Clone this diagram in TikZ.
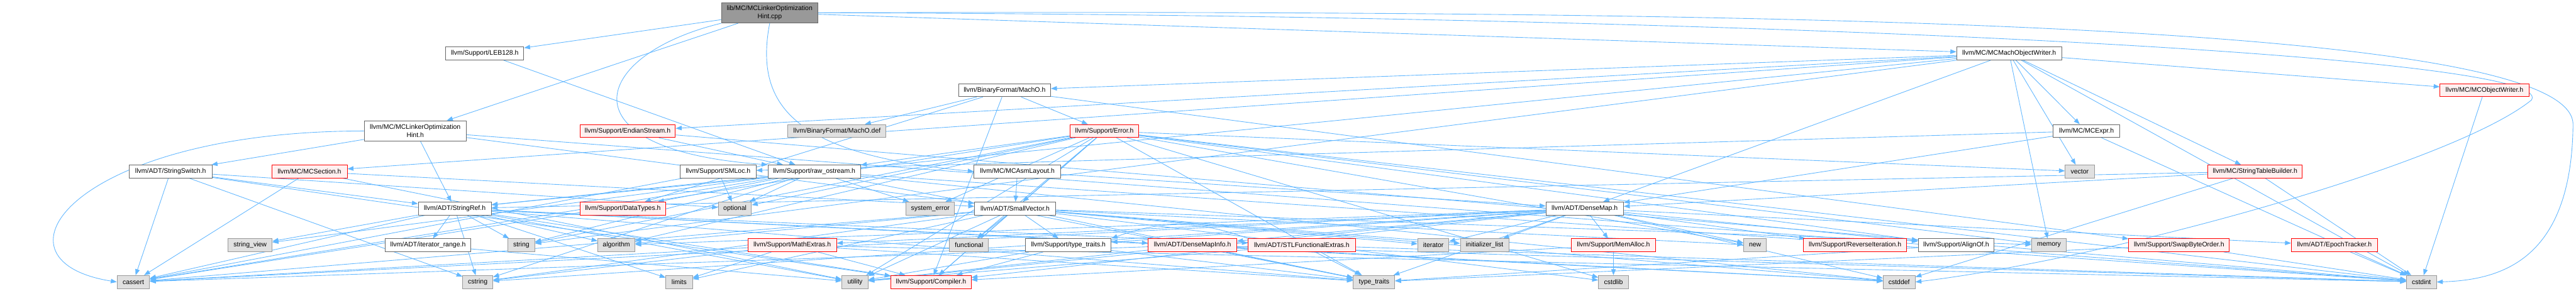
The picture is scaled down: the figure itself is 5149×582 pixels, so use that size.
\documentclass[tikz,border=0pt]{standalone}
\usepackage{fontspec}
\setmainfont{Liberation Sans}
\usetikzlibrary{arrows.meta}
\pgfdeclarelayer{bg}
\pgfsetlayers{bg,main}
\definecolor{edgec}{HTML}{63B8FF}
\definecolor{bordN}{HTML}{666666}
\definecolor{bordX}{HTML}{999999}
\definecolor{fillX}{HTML}{E0E0E0}
\definecolor{fillR}{HTML}{FFF0F0}
\definecolor{fillRoot}{HTML}{999999}
\newcommand\mk[6]{\node[#1, minimum width=#2pt] (#3) at (#4,#5) {#6};}
\begin{document}
\begin{tikzpicture}[x=1pt,y=-1pt,
  nd/.style={draw=bordN, fill=white, line width=1.1pt, minimum height=26pt, inner sep=0pt, align=center, font=\fontsize{13.2}{16}\selectfont},
  ext/.style={nd, draw=bordX, fill=fillX},
  trn/.style={nd, draw=red, fill=fillR},
  rootn/.style={nd, draw=bordN, fill=fillRoot, minimum height=41pt},
  twol/.style={nd, minimum height=41pt},
  e/.style={draw=edgec, line width=1.1pt, -{Triangle[length=12pt,width=9pt]}}]
\useasboundingbox (0,0) rectangle (5149,582);
% row 0
\mk{rootn}{193}{root}{1538.5}{25.5}{lib/MC/MCLinkerOptimization\\Hint.cpp}
% row 1
\mk{nd}{156}{leb}{969}{107}{llvm/Support/LEB128.h}
\mk{nd}{210}{mmow}{4016}{107}{llvm/MC/MCMachObjectWriter.h}
% row 2
\mk{nd}{184}{macho}{2008}{180.5}{llvm/BinaryFormat/MachO.h}
\mk{trn}{178}{mow}{4966}{180.5}{llvm/MC/MCObjectWriter.h}
% row 3
\mk{twol}{204}{mcloh}{830}{262}{llvm/MC/MCLinkerOptimization\\Hint.h}
\mk{trn}{191}{endian}{1254.5}{262}{llvm/Support/EndianStream.h}
\mk{ext}{196}{machodef}{1673}{262}{llvm/BinaryFormat/MachO.def}
\mk{trn}{137}{error}{2207.5}{262}{llvm/Support/Error.h}
\mk{nd}{133}{mcexpr}{4170.5}{262}{llvm/MC/MCExpr.h}
% row 4
\mk{nd}{166}{sswitch}{341}{343}{llvm/ADT/StringSwitch.h}
\mk{trn}{151}{mcsection}{618.5}{343}{llvm/MC/MCSection.h}
\mk{nd}{151}{smloc}{1435.5}{343}{llvm/Support/SMLoc.h}
\mk{nd}{185}{rawos}{1627.5}{343}{llvm/Support/raw\_ostream.h}
\mk{nd}{173}{asmlayout}{2033.5}{343}{llvm/MC/MCAsmLayout.h}
\mk{ext}{58}{vector}{4157}{343}{vector}
\mk{trn}{189}{stb}{4507.5}{343}{llvm/MC/StringTableBuilder.h}
% row 5
\mk{nd}{146}{sref}{909}{417}{llvm/ADT/StringRef.h}
\mk{trn}{172}{dtypes}{1245}{417}{llvm/Support/DataTypes.h}
\mk{ext}{66}{optional}{1469}{417}{optional}
\mk{ext}{97}{syserr}{1859.5}{417}{system\_error}
\mk{nd}{162}{svec}{2029}{417}{llvm/ADT/SmallVector.h}
\mk{nd}{155}{dmap}{3167.5}{417}{llvm/ADT/DenseMap.h}
% row 6
\mk{ext}{88}{sview}{500}{490.5}{string\_view}
\mk{nd}{171}{itrange}{855.5}{490.5}{llvm/ADT/iterator\_range.h}
\mk{ext}{54}{string}{1042}{490.5}{string}
\mk{ext}{74}{algorithm}{1232}{490.5}{algorithm}
\mk{trn}{177}{mathx}{1583.5}{490.5}{llvm/Support/MathExtras.h}
\mk{ext}{78}{functional}{1937}{490.5}{functional}
\mk{nd}{171}{tytraitsh}{2135.5}{490.5}{llvm/Support/type\_traits.h}
\mk{trn}{177}{dmapinfo}{2383.5}{490.5}{llvm/ADT/DenseMapInfo.h}
\mk{trn}{214}{stlfe}{2602}{490.5}{llvm/ADT/STLFunctionalExtras.h}
\mk{ext}{62}{iterator}{2865}{490.5}{iterator}
\mk{ext}{97}{initlist}{2967.5}{490.5}{initializer\_list}
\mk{trn}{168}{memalloc}{3225}{490.5}{llvm/Support/MemAlloc.h}
\mk{ext}{46}{new}{3508}{490.5}{new}
\mk{trn}{206}{reviter}{3708}{490.5}{llvm/Support/ReverseIteration.h}
\mk{nd}{152}{alignof}{3910}{490.5}{llvm/Support/AlignOf.h}
\mk{ext}{69}{memory}{4095.5}{490.5}{memory}
\mk{trn}{201}{swapbo}{4355.5}{490.5}{llvm/Support/SwapByteOrder.h}
\mk{trn}{172}{epoch}{4666}{490.5}{llvm/ADT/EpochTracker.h}
% row 7
\mk{ext}{65}{cassert}{266.5}{564}{cassert}
\mk{ext}{60}{cstring}{955}{564}{cstring}
\mk{ext}{53}{limits}{1357.5}{564}{limits}
\mk{ext}{52}{utility}{1709}{564}{utility}
\mk{trn}{160}{compiler}{1861}{564}{llvm/Support/Compiler.h}
\mk{ext}{83}{typetraits}{2746.5}{564}{type\_traits}
\mk{ext}{60}{cstdlib}{3225}{564}{cstdlib}
\mk{ext}{64}{cstddef}{3796}{564}{cstddef}
\mk{ext}{60}{cstdint}{4840}{564}{cstdint}

\begin{pgfonlayer}{bg}
\fill[white] (0,0) rectangle (5149,582);
\foreach \a/\b in {
 root/mcloh, root/mmow, root/leb,
 leb/rawos,
 mcloh/svec, mcloh/sref, mcloh/sswitch, mcloh/cstdint,
 mmow/dmap, mmow/sref, mmow/macho, mmow/mcexpr, mmow/mow, mmow/mcsection, mmow/stb, mmow/endian, mmow/cstdint, mmow/memory, mmow/string, mmow/vector,
 macho/compiler, macho/dtypes, macho/error, macho/swapbo, macho/machodef,
 mow/cstdint,
 endian/rawos, endian/cstdint,
 error/svec, error/alignof, error/compiler, error/rawos, error/algorithm, error/cassert, error/cstdint, error/cstdlib, error/functional, error/memory, error/new, error/optional, error/string, error/syserr, error/typetraits, error/utility, error/vector,
 mcexpr/dmap, mcexpr/smloc, mcexpr/cstdint,
 sswitch/sref, sswitch/compiler, sswitch/cassert, sswitch/cstring, sswitch/optional,
 mcsection/svec, mcsection/cassert, mcsection/utility,
 smloc/cassert, smloc/optional,
 rawos/sref, rawos/dtypes, rawos/cassert, rawos/cstddef, rawos/cstdint, rawos/cstring, rawos/optional, rawos/string, rawos/sview, rawos/syserr, rawos/typetraits,
 asmlayout/dmap, asmlayout/svec,
 stb/dmap, stb/sref, stb/cstddef, stb/cstdint,
 sref/dmapinfo, sref/stlfe, sref/itrange, sref/compiler, sref/algorithm, sref/cassert, sref/cstddef, sref/cstring, sref/limits, sref/string, sref/sview, sref/typetraits, sref/utility,
 svec/compiler, svec/tytraitsh, svec/algorithm, svec/cassert, svec/cstddef, svec/cstdlib, svec/cstring, svec/functional, svec/initlist, svec/iterator, svec/limits, svec/memory, svec/new, svec/typetraits, svec/utility,
 dmap/dmapinfo, dmap/epoch, dmap/alignof, dmap/compiler, dmap/mathx, dmap/memalloc, dmap/reviter, dmap/tytraitsh, dmap/algorithm, dmap/cassert, dmap/cstddef, dmap/cstring, dmap/initlist, dmap/iterator, dmap/new, dmap/typetraits, dmap/utility,
 itrange/utility,
 mathx/compiler, mathx/cassert, mathx/cstdint, mathx/cstring, mathx/limits, mathx/typetraits,
 tytraitsh/compiler, tytraitsh/typetraits, tytraitsh/utility,
 dmapinfo/cassert, dmapinfo/cstddef, dmapinfo/cstdint, dmapinfo/typetraits, dmapinfo/utility,
 stlfe/cstdint, stlfe/typetraits, stlfe/utility,
 memalloc/compiler, memalloc/cstdlib,
 alignof/typetraits,
 swapbo/cstdint, swapbo/typetraits,
 epoch/cstdint}
 {\draw[e] (\a) -- (\b);}
\draw[e] (stlfe.north west) to[out=160,in=20] (tytraitsh.north east);
\draw[e] (mcloh.west) .. controls (150,262) and (-40,520) .. (cassert.west);
\draw[e] (root.south west) .. controls (1180,110) and (1120,300) .. (rawos.north west);
\draw[e] (root.south) .. controls (1505,220) and (1600,310) .. (asmlayout.west);
\draw[e] (root.east) .. controls (3500,20) and (5149,40) .. (5143,250) .. controls (5140,520) and (5000,560) .. (cstdint.east);
\draw[e] (root.east) .. controls (3500,30) and (5120,110) .. (5060,200) .. controls (4900,330) and (4200,520) .. (cstddef.east);
\end{pgfonlayer}
\end{tikzpicture}
\end{document}
